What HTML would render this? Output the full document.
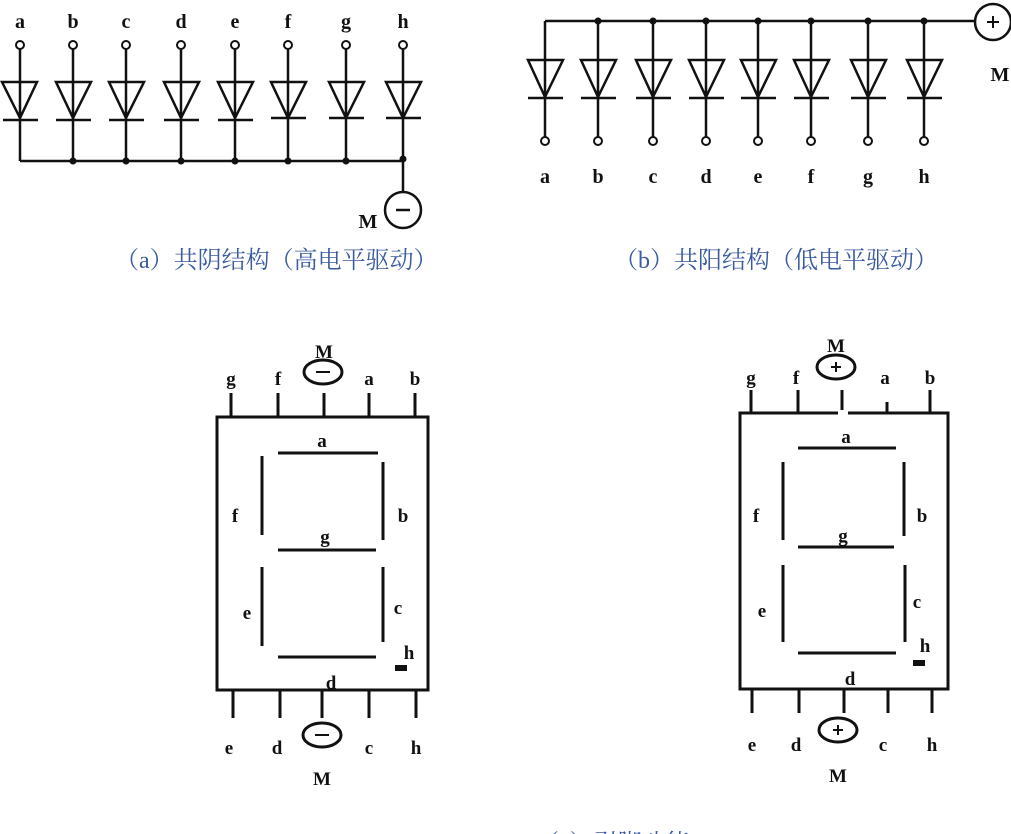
<!DOCTYPE html>
<html><head><meta charset="utf-8"><style>
html,body{margin:0;padding:0;background:#fff;}
svg{display:block;}
.l{font-family:"Liberation Serif",serif;font-weight:bold;font-size:20px;fill:#111;text-anchor:middle;}
.s{font-family:"Liberation Serif",serif;font-weight:bold;font-size:19px;fill:#111;text-anchor:middle;}
.cap{font-family:"Liberation Serif","Noto Serif CJK SC",serif;font-size:24px;fill:#3A5BA0;}
</style></head><body>
<svg width="1011" height="834" viewBox="0 0 1011 834" xmlns="http://www.w3.org/2000/svg">
<!-- (a) common cathode -->
<g stroke="#111" stroke-width="2.5" fill="none">
<path d="M20 161H403V192"/>
<circle cx="403" cy="210" r="18"/>
<path d="M396 210h14"/>
</g>
<g stroke="#111" stroke-width="2.5" fill="none">
<path d="M20 49V161M2 82h35L20 118Z M3 120h35"/>
<path d="M73 49V161M56 82h35L73 118Z M56 120h35"/>
<path d="M126 49V161M109 82h35L126 118Z M109 120h35"/>
<path d="M181 49V161M164 82h35L181 118Z M164 120h35"/>
<path d="M235 49V161M218 82h35L235 118Z M218 120h35"/>
<path d="M288 49V161M271 82h35L288 118Z M271 118h35"/>
<path d="M346 49V161M329 82h35L346 118Z M329 118h35"/>
<path d="M403 49V161M386 82h35L403 118Z M386 118h35"/>
</g>
<g fill="#fff" stroke="#111" stroke-width="2">
<circle cx="20" cy="45" r="4"/><circle cx="73" cy="45" r="4"/><circle cx="126" cy="45" r="4"/><circle cx="181" cy="45" r="4"/><circle cx="235" cy="45" r="4"/><circle cx="288" cy="45" r="4"/><circle cx="346" cy="45" r="4"/><circle cx="403" cy="45" r="4"/>
</g>
<g fill="#111"><circle cx="73" cy="161" r="3.5"/><circle cx="126" cy="161" r="3.5"/><circle cx="181" cy="161" r="3.5"/><circle cx="235" cy="161" r="3.5"/><circle cx="288" cy="161" r="3.5"/><circle cx="346" cy="161" r="3.5"/><circle cx="403" cy="159" r="3.5"/></g>
<g class="l"><text x="20" y="28">a</text><text x="73" y="28">b</text><text x="126" y="28">c</text><text x="181" y="28">d</text><text x="235" y="28">e</text><text x="288" y="28">f</text><text x="346" y="28">g</text><text x="403" y="28">h</text><text x="368" y="228">M</text></g>

<!-- (b) common anode -->
<g stroke="#111" stroke-width="2.5" fill="none">
<path d="M545 21H975"/>
<circle cx="993" cy="22" r="18"/>
<path d="M987 22h12M993 16v12" stroke-width="2"/>
<path d="M545 21V137M528 60h35L545 97Z M528 98h35"/>
<path d="M598 21V137M581 60h35L598 97Z M581 98h35"/>
<path d="M653 21V137M636 60h35L653 97Z M636 98h35"/>
<path d="M706 21V137M689 60h35L706 97Z M689 98h35"/>
<path d="M758 21V137M741 60h35L758 97Z M741 98h35"/>
<path d="M811 21V137M794 60h35L811 97Z M794 98h35"/>
<path d="M868 21V137M851 60h35L868 97Z M851 98h35"/>
<path d="M924 21V137M907 60h35L924 97Z M907 98h35"/>
</g>
<g fill="#fff" stroke="#111" stroke-width="2">
<circle cx="545" cy="141" r="4"/><circle cx="598" cy="141" r="4"/><circle cx="653" cy="141" r="4"/><circle cx="706" cy="141" r="4"/><circle cx="758" cy="141" r="4"/><circle cx="811" cy="141" r="4"/><circle cx="868" cy="141" r="4"/><circle cx="924" cy="141" r="4"/>
</g>
<g fill="#111"><circle cx="598" cy="21" r="3.5"/><circle cx="653" cy="21" r="3.5"/><circle cx="706" cy="21" r="3.5"/><circle cx="758" cy="21" r="3.5"/><circle cx="811" cy="21" r="3.5"/><circle cx="868" cy="21" r="3.5"/><circle cx="924" cy="21" r="3.5"/></g>
<g class="l"><text x="545" y="183">a</text><text x="598" y="183">b</text><text x="653" y="183">c</text><text x="706" y="183">d</text><text x="758" y="183">e</text><text x="811" y="183">f</text><text x="868" y="183">g</text><text x="924" y="183">h</text><text x="1000" y="81">M</text></g>

<text class="cap" x="115" y="268">（a）共阴结构（高电平驱动）</text>
<text class="cap" x="614" y="268">（b）共阳结构（低电平驱动）</text>
<text class="cap" x="535" y="851">（c）引脚功能</text>

<!-- left 7-seg -->
<g stroke="#111" stroke-width="3" fill="none">
<rect x="217" y="417" width="211" height="273"/>
<path d="M231 393v24M278 393v24M324 393v24M369 393v24M415 393v24"/>
<path d="M233 690v28M280 690v28M322 690v28M369 690v28M416 690v28"/>
<path d="M278 453h100M262 456v79M383 462v78M278 550h98M262 567v79M383 567v75M278 657h98"/>
<ellipse cx="323" cy="372" rx="19" ry="12"/>
<ellipse cx="322" cy="735" rx="19" ry="12"/>
<path d="M316 372h14M315 735h14" stroke-width="2"/>
</g>
<rect x="395" y="665" width="12" height="6" fill="#111"/>
<g class="s"><text x="231" y="385">g</text><text x="278" y="385">f</text><text x="324" y="358">M</text><text x="369" y="385">a</text><text x="415" y="385">b</text>
<text x="322" y="447">a</text><text x="235" y="522">f</text><text x="403" y="522">b</text><text x="325" y="543">g</text><text x="247" y="619">e</text><text x="398" y="614">c</text><text x="409" y="659">h</text><text x="331" y="689">d</text>
<text x="229" y="754">e</text><text x="277" y="754">d</text><text x="369" y="754">c</text><text x="416" y="754">h</text><text x="322" y="785">M</text></g>

<!-- right 7-seg -->
<g stroke="#111" stroke-width="3" fill="none">
<path d="M838 413H740V689H948V413H848"/>
<path d="M751 390v23M798 390v23M842 390v20M887 402v11M930 390v23"/>
<path d="M752 689v24M799 689v24M844 689v24M888 689v24M932 689v24"/>
<path d="M798 448h98M783 462v78M904 462v74M798 547h96M783 565v77M905 565v77M798 653h98"/>
<ellipse cx="836" cy="367" rx="19" ry="12"/>
<ellipse cx="838" cy="730" rx="19" ry="12"/>
<path d="M831 367h10M836 362v10M833 730h10M838 725v10" stroke-width="2"/>
</g>
<rect x="913" y="660" width="12" height="6" fill="#111"/>
<g class="s"><text x="751" y="384">g</text><text x="796" y="384">f</text><text x="836" y="352">M</text><text x="885" y="384">a</text><text x="930" y="384">b</text>
<text x="846" y="443">a</text><text x="756" y="522">f</text><text x="922" y="522">b</text><text x="843" y="542">g</text><text x="762" y="617">e</text><text x="917" y="608">c</text><text x="925" y="652">h</text><text x="850" y="685">d</text>
<text x="752" y="751">e</text><text x="796" y="751">d</text><text x="883" y="751">c</text><text x="932" y="751">h</text><text x="838" y="782">M</text></g>
</svg>
</body></html>
